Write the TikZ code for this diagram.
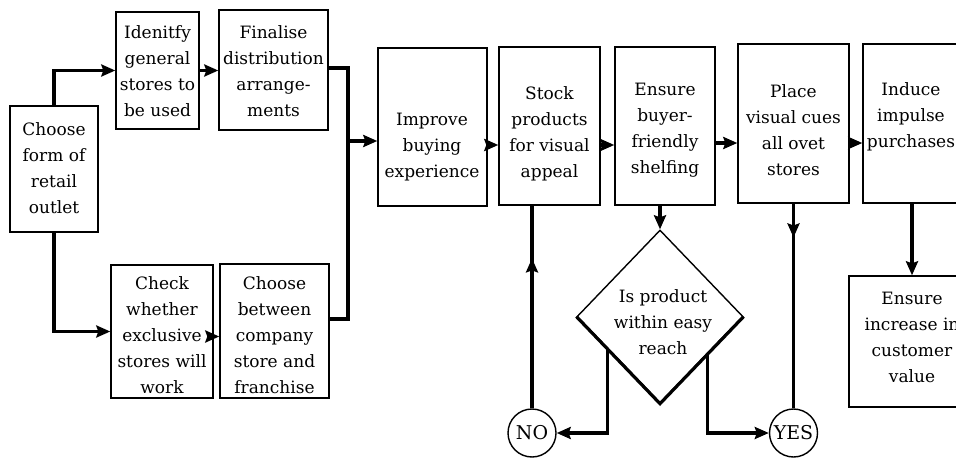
\documentclass[tikz,border=0pt]{standalone}
\usepackage{fontspec}
\setmainfont{DejaVu Serif}
\usetikzlibrary{arrows.meta,shapes.geometric,decorations.markings,calc}
\begin{document}
\begin{tikzpicture}[x=1pt,y=-1pt,
  box/.style={draw, line width=1.4pt, rectangle, inner sep=0pt},
  txt/.style={align=center, font=\fontsize{17}{26}\selectfont, inner sep=0pt},
  heavy/.style={line width=3.2pt},
  conn/.style={line width=3.2pt, -{Stealth[length=14pt,width=12pt,inset=2pt]}},
  midarrow/.style={line width=3.2pt, postaction={decorate},
    decoration={markings, mark=at position #1 with {\arrow{Stealth[length=14pt,width=12pt,inset=2pt]}}}},
  yn/.style={draw, circle, line width=1.4pt, minimum size=48pt, inner sep=0pt, font=\fontsize{19}{22}\selectfont}
]
\clip (0,0) rectangle (956,460);
\fill[white] (0,0) rectangle (956,460);

% boxes
\node[box, minimum width=88pt,  minimum height=126pt] (cform)  at (54,169) {};
\node[box, minimum width=83pt,  minimum height=117pt] (ident)  at (157.5,70.5) {};
\node[box, minimum width=109pt, minimum height=120pt] (final)  at (273.5,70) {};
\node[box, minimum width=102pt, minimum height=133pt] (check)  at (162,331.5) {};
\node[box, minimum width=109pt, minimum height=134pt] (cbetw)  at (274.5,331) {};
\node[box, minimum width=109pt, minimum height=158pt] (impr)   at (432.5,127) {};
\node[box, minimum width=101pt, minimum height=158pt] (stock)  at (549.5,126) {};
\node[box, minimum width=100pt, minimum height=158pt] (ensb)   at (665,126) {};
\node[box, minimum width=111pt, minimum height=159pt] (place)  at (793.5,123.5) {};
\node[box, minimum width=112pt, minimum height=159pt] (induce) at (919,123.5) {};
\node[box, minimum width=126pt, minimum height=131pt] (ensinc) at (912,341.5) {};
\node[draw, diamond, line width=1.4pt, minimum width=166pt, minimum height=173pt, inner sep=0pt] (dia) at (660,316.5) {};
\draw[heavy] (dia.west) -- (dia.south) -- (dia.east);
\node[yn] (no)  at (532,433) {NO};
\node[yn] (yes) at (793.5,433) {YES};

% texts
\node[txt] (tcform)  at (54,168)    {Choose\\form of\\retail\\outlet};
\node[txt] (tident)  at (157.5,71)  {Idenitfy\\general\\stores to\\be used};
\node[txt] (tfinal)  at (273.5,71)  {Finalise\\distribution\\arrange-\\ments};
\node[txt] (tcheck)  at (162,335)   {Check\\whether\\exclusive\\stores will\\work};
\node[txt] (tcbetw)  at (274.5,335) {Choose\\between\\company\\store and\\franchise};
\node[txt] (timpr)   at (432,147)   {Improve\\buying\\experience};
\node[txt] (tstock)  at (549.5,134) {Stock\\products\\for visual\\appeal};
\node[txt] (tensb)   at (665,130)   {Ensure\\buyer-\\friendly\\shelfing};
\node[txt] (tplace)  at (793.5,130) {Place\\visual cues\\all ovet\\stores};
\node[txt] (tinduce) at (911,117)   {Induce\\impulse\\purchases};
\node[txt] (tensinc) at (912,337)   {Ensure\\increase in\\customer\\value};
\node[txt] (tdia)    at (663,322)   {Is product\\within easy\\reach};

% left part
\draw[conn] (cform.north) |- (ident.west);
\draw[conn] (cform.south) |- (check.west);
\draw[conn] (ident.east) -- (ident.east -| final.west);
\coordinate (ck) at ($(check.east)+(0,5)$);
\draw[conn] (ck) -- (ck -| cbetw.west);
\coordinate (bt) at (348,68);
\coordinate (bb) at (348,319);
\coordinate (bm) at (348,141);
\draw[heavy] (final.east |- bt) -- (bt) -- (bb) -- (cbetw.east |- bb);
\draw[conn] (bm) -- (bm -| impr.west);

% top row
\coordinate (r1) at ($(impr.east)+(0,18)$);
\draw[conn] (r1) -- (r1 -| stock.west);
\coordinate (r2) at ($(stock.east)+(0,19)$);
\draw[conn] (r2) -- (r2 -| ensb.west);
\coordinate (r3) at ($(ensb.east)+(0,17)$);
\draw[conn] (r3) -- (r3 -| place.west);
\coordinate (r4) at ($(place.east)+(0,19.5)$);
\draw[conn] (r4) -- (r4 -| induce.west);

% verticals
\draw[conn] (ensb.south -| dia.north) -- (dia.north);
\draw[conn] (induce.south -| ensinc.north) -- (ensinc.north);
\coordinate (dl) at ($(dia.west)!0.37!(dia.south)$);
\coordinate (dr) at ($(dia.east)!0.43!(dia.south)$);
\draw[conn] (dl) |- (no);
\draw[conn] (dr) |- (yes);
\draw[midarrow=0.74] (no.north) -- (no.north |- stock.south);
\draw[midarrow=0.165] (place.south -| yes.north) -- (yes.north);
\end{tikzpicture}
\end{document}
